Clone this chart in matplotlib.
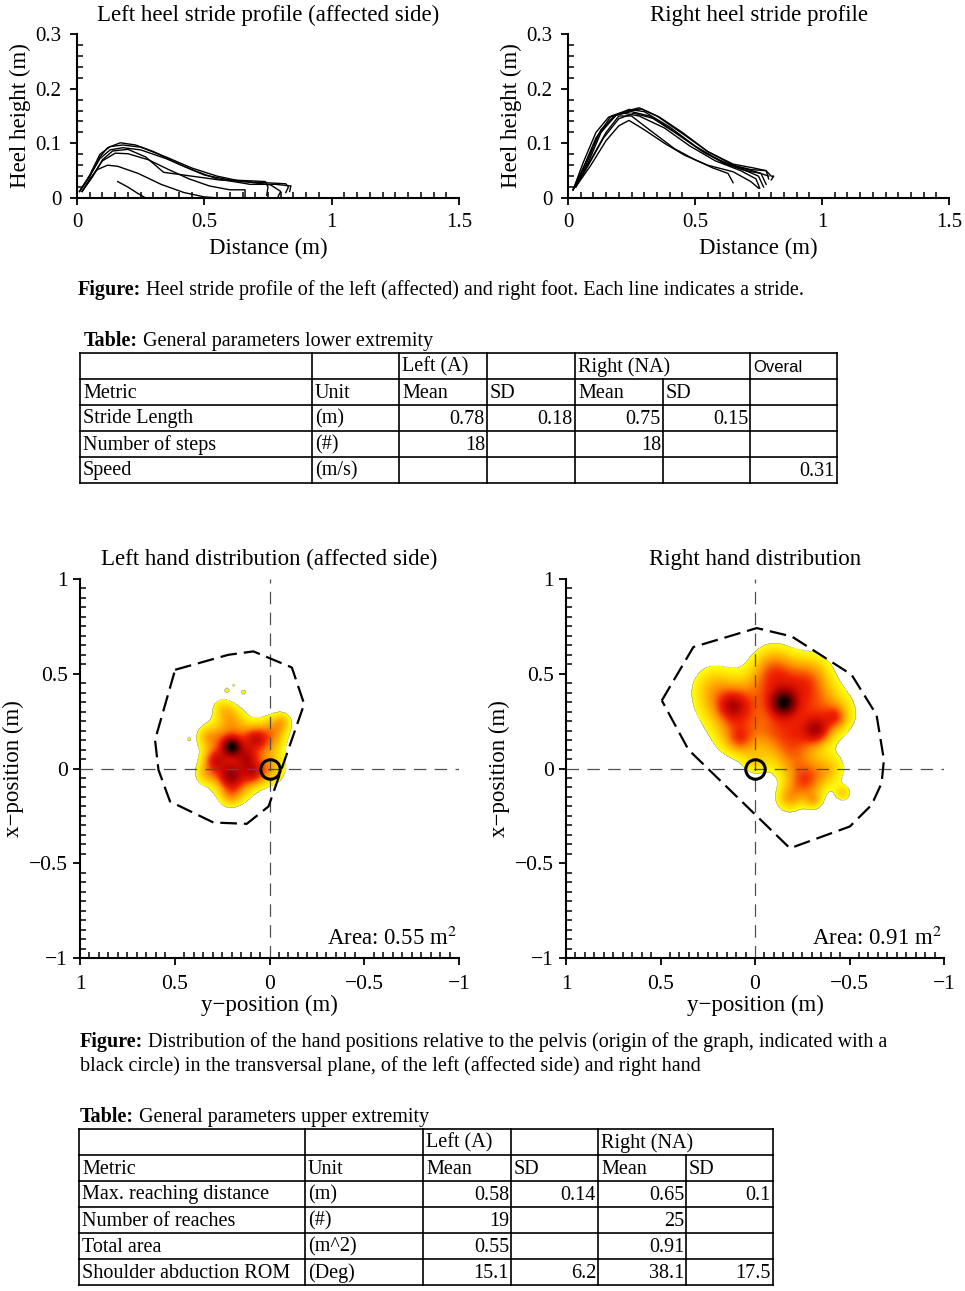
import numpy as np
import matplotlib
matplotlib.use("Agg")
from matplotlib import pyplot as plt
from matplotlib.ticker import MultipleLocator
from matplotlib.colors import LinearSegmentedColormap

plt.rcParams['font.family'] = ['Liberation Serif', 'DejaVu Serif']
plt.rcParams['mathtext.fontset'] = 'stix'
plt.rcParams['lines.scale_dashes'] = False

# ---- heel stride profiles (distance m, height m), one list per stride ----
left_x = [
    [0.01, 0.05, 0.09, 0.12, 0.17, 0.23, 0.30, 0.40, 0.50, 0.60, 0.70, 0.74, 0.75, 0.745],
    [0.01, 0.05, 0.09, 0.13, 0.18, 0.25, 0.35, 0.45, 0.55, 0.65, 0.78, 0.82, 0.83, 0.82],
    [0.01, 0.05, 0.09, 0.13, 0.18, 0.25, 0.35, 0.45, 0.55, 0.68, 0.78, 0.84, 0.835],
    [0.02, 0.06, 0.10, 0.15, 0.20, 0.28, 0.36, 0.44, 0.52, 0.60, 0.66, 0.66],
    [0.02, 0.05, 0.08, 0.12, 0.16, 0.24, 0.33, 0.42, 0.50, 0.56],
    [0.16, 0.20, 0.24, 0.27],
    [0.02, 0.06, 0.10, 0.14, 0.20, 0.27, 0.34, 0.45, 0.56, 0.66, 0.76, 0.80, 0.79],
]
left_y = [
    [0.012, 0.040, 0.075, 0.092, 0.101, 0.097, 0.085, 0.062, 0.042, 0.033, 0.031, 0.030, 0.020, 0.005],
    [0.012, 0.042, 0.080, 0.094, 0.097, 0.093, 0.075, 0.055, 0.040, 0.030, 0.027, 0.026, 0.020, 0.010],
    [0.012, 0.040, 0.072, 0.088, 0.092, 0.088, 0.072, 0.052, 0.035, 0.025, 0.025, 0.022, 0.012],
    [0.012, 0.040, 0.068, 0.082, 0.081, 0.070, 0.052, 0.035, 0.022, 0.015, 0.015, 0.001],
    [0.012, 0.035, 0.052, 0.060, 0.058, 0.045, 0.025, 0.010, 0.002, 0.0],
    [0.030, 0.020, 0.008, 0.0],
    [0.012, 0.038, 0.070, 0.086, 0.089, 0.075, 0.047, 0.040, 0.033, 0.030, 0.024, 0.012, 0.003],
]
right_x = [
    [0.02, 0.06, 0.11, 0.17, 0.22, 0.28, 0.36, 0.45, 0.55, 0.65, 0.72, 0.78, 0.80, 0.81, 0.80],
    [0.02, 0.07, 0.12, 0.18, 0.24, 0.30, 0.40, 0.50, 0.60, 0.70, 0.76, 0.78],
    [0.03, 0.08, 0.13, 0.19, 0.25, 0.32, 0.42, 0.52, 0.62, 0.70, 0.75, 0.77],
    [0.02, 0.06, 0.11, 0.16, 0.22, 0.28, 0.38, 0.48, 0.58, 0.68, 0.74, 0.755],
    [0.03, 0.08, 0.14, 0.20, 0.26, 0.34, 0.44, 0.54, 0.64, 0.74, 0.79],
    [0.03, 0.09, 0.15, 0.20, 0.25, 0.32, 0.42, 0.50, 0.57, 0.63, 0.65],
    [0.03, 0.09, 0.15, 0.20, 0.24, 0.30, 0.38, 0.46, 0.55, 0.65, 0.72, 0.75],
    [0.02, 0.08, 0.13, 0.19, 0.25, 0.29, 0.35, 0.45, 0.55, 0.65, 0.73, 0.78, 0.79],
]
right_y = [
    [0.015, 0.055, 0.110, 0.150, 0.158, 0.165, 0.148, 0.120, 0.085, 0.060, 0.052, 0.050, 0.040, 0.040, 0.033],
    [0.015, 0.060, 0.115, 0.150, 0.162, 0.158, 0.130, 0.095, 0.068, 0.050, 0.045, 0.025],
    [0.020, 0.065, 0.120, 0.152, 0.158, 0.150, 0.120, 0.088, 0.062, 0.050, 0.040, 0.020],
    [0.015, 0.065, 0.120, 0.148, 0.155, 0.150, 0.128, 0.095, 0.068, 0.050, 0.035, 0.018],
    [0.020, 0.060, 0.110, 0.145, 0.155, 0.145, 0.115, 0.082, 0.060, 0.048, 0.040],
    [0.020, 0.070, 0.120, 0.150, 0.150, 0.125, 0.090, 0.070, 0.055, 0.045, 0.028],
    [0.020, 0.060, 0.105, 0.132, 0.142, 0.125, 0.100, 0.078, 0.060, 0.048, 0.030, 0.018],
    [0.015, 0.075, 0.125, 0.152, 0.160, 0.163, 0.150, 0.118, 0.085, 0.062, 0.055, 0.050, 0.035],
]

# ---- hand distributions: hot spots (y-pos, x-pos, weight, spread) ----
left_hy = [0.25, 0.12, 0.00, 0.25, 0.12, 0.00, 0.18, 0.20, -0.03,
           0.33, 0.34, 0.21, 0.25, -0.07,
           0.20, 0.12, 0.07, 0.29, 0.21, 0.085,
           0.225, 0.19, 0.138, 0.425]
left_hx = [0.15, 0.15, 0.15, 0.00, 0.00, 0.00, -0.10, 0.27, 0.22,
           0.17, -0.03, -0.15, 0.32, 0.25,
           0.115, 0.06, 0.16, 0.045, -0.04, -0.025,
           0.415, 0.44, 0.405, 0.155]
left_hw = [0.30, 0.30, 0.25, 0.30, 0.30, 0.25, 0.25, 0.20, 0.18,
           0.15, 0.15, 0.15, 0.15, 0.15,
           0.60, 0.25, 0.25, 0.30, 0.30, 0.25,
           0.14, 0.13, 0.14, 0.13]
left_hs = [0.07, 0.07, 0.06, 0.07, 0.07, 0.06, 0.06, 0.05, 0.05,
           0.04, 0.04, 0.04, 0.04, 0.035,
           0.035, 0.04, 0.04, 0.04, 0.045, 0.04,
           0.012, 0.008, 0.012, 0.008]

right_hy = [0.20, 0.05, -0.10, -0.25, -0.40, -0.25, -0.10, 0.10, -0.20, -0.30, -0.10, -0.30, 0.22,
            -0.18, -0.31, -0.466, 0.00, -0.40, -0.25,
            -0.15, -0.33, 0.12, -0.43, 0.08]
right_hx = [0.35, 0.35, 0.45, 0.40, 0.30, 0.20, 0.20, 0.20, 0.05, -0.05, 0.55, 0.50, 0.45,
            -0.16, -0.17, -0.13, 0.03, 0.00, -0.08,
            0.345, 0.20, 0.33, 0.27, 0.15]
right_hw = [0.20, 0.28, 0.30, 0.30, 0.28, 0.30, 0.30, 0.26, 0.25, 0.22, 0.22, 0.22, 0.15,
            0.25, 0.20, 0.20, 0.15, 0.18, 0.22,
            0.60, 0.35, 0.25, 0.20, 0.20]
right_hs = [0.09, 0.09, 0.09, 0.09, 0.09, 0.09, 0.09, 0.09, 0.08, 0.07, 0.08, 0.08, 0.08,
            0.05, 0.035, 0.03, 0.05, 0.06, 0.06,
            0.05, 0.05, 0.05, 0.04, 0.05]

# convex hull of reach (y-pos, x-pos)
left_hull_y = [0.498, 0.217, 0.085, -0.118, -0.183, 0.005, 0.12, 0.296, 0.525, 0.586, 0.604, 0.498]
left_hull_x = [0.521, 0.600, 0.618, 0.533, 0.340, -0.200, -0.292, -0.285, -0.174, -0.007, 0.151, 0.521]
right_hull_y = [0.493, 0.326, -0.009, -0.194, -0.511, -0.643, -0.682, -0.670, -0.617, -0.502, -0.185, 0.352, 0.493]
right_hull_x = [0.359, 0.641, 0.741, 0.697, 0.495, 0.283, 0.046, -0.077, -0.192, -0.306, -0.421, 0.099, 0.359]

area_left = 0.55
area_right = 0.91

# ---- tables ----
cols1 = ["", "", "Left (A)", "", "Right (NA)", "", "Overal"]
sub1 = ["Metric", "Unit", "Mean", "SD", "Mean", "SD", ""]
metrics1 = ["Stride Length", "Number of steps", "Speed"]
units1 = ["(m)", "(#)", "(m/s)"]
left_mean1 = ["0.78", "18", ""]
left_sd1 = ["0.18", "", ""]
right_mean1 = ["0.75", "18", ""]
right_sd1 = ["0.15", "", ""]
overall1 = ["", "", "0.31"]

cols2 = ["", "", "Left (A)", "", "Right (NA)", ""]
sub2 = ["Metric", "Unit", "Mean", "SD", "Mean", "SD"]
metrics2 = ["Max. reaching distance", "Number of reaches", "Total area", "Shoulder abduction ROM"]
units2 = ["(m)", "(#)", "(m^2)", "(Deg)"]
left_mean2 = ["0.58", "19", "0.55", "15.1"]
left_sd2 = ["0.14", "", "", "6.2"]
right_mean2 = ["0.65", "25", "0.91", "38.1"]
right_sd2 = ["0.1", "", "", "17.5"]

W, H = 965, 1291
fig = plt.figure(figsize=(W / 100, H / 100), dpi=100)

def px_axes(l, t, r, b):
    return fig.add_axes([l / W, 1 - b / H, (r - l) / W, (b - t) / H])

def style_axes(ax, tick_size, pad):
    for s in ['top', 'right']:
        ax.spines[s].set_visible(False)
    for s in ['left', 'bottom']:
        ax.spines[s].set_linewidth(1.5)
    ax.tick_params(which='major', direction='out', length=5, width=1.3, labelsize=tick_size, pad=pad)
    ax.tick_params(which='minor', direction='in', length=4, width=1.1)

# heel profiles
for (l, r), xs, ys, title in [((77, 459), left_x, left_y, "Left heel stride profile (affected side)"),
                             ((568, 949), right_x, right_y, "Right heel stride profile")]:
    ax = px_axes(l, 34, r, 198)
    for x, y in zip(xs, ys):
        ax.plot(x, y, c='black', lw=1.0)
    ax.set_xlim(0, 1.5)
    ax.set_ylim(0, 0.3)
    ax.set_xticks([0, 0.5, 1, 1.5])
    ax.set_xticklabels(["0", "0.5", "1", "1.5"])
    ax.set_yticks([0, 0.1, 0.2, 0.3])
    ax.set_yticklabels(["0", "0.1", "0.2", "0.3"])
    ax.xaxis.set_minor_locator(MultipleLocator(0.05))
    ax.yaxis.set_minor_locator(MultipleLocator(0.02))
    style_axes(ax, 15, 6)
    ax.set_title(title, fontsize=16.5, pad=9)
    ax.set_xlabel("Distance (m)", fontsize=16.5, labelpad=4)
    ax.set_ylabel("Heel height (m)", fontsize=16.5, labelpad=3)

# hand distributions
cmap = LinearSegmentedColormap.from_list("heat", [
    (0.0, "#ffff10"), (0.12, "#ffd400"), (0.28, "#ff8c00"),
    (0.45, "#f02000"), (0.66, "#b00000"), (0.86, "#500000"), (1.0, "#0a0000")])
g = np.linspace(-1, 1, 401)
GY, GX = np.meshgrid(g, g)
thr = 0.1

for (l, r), hy, hx, hw, hs, huy, hux, area, title in [
        ((80, 459), left_hy, left_hx, left_hw, left_hs, left_hull_y, left_hull_x, area_left,
         "Left hand distribution (affected side)"),
        ((566, 944), right_hy, right_hx, right_hw, right_hs, right_hull_y, right_hull_x, area_right,
         "Right hand distribution")]:
    ax = px_axes(l, 579, r, 958)
    Z = np.zeros_like(GX)
    for y0, x0, w0, s0 in zip(hy, hx, hw, hs):
        Z += w0 * np.exp(-((GY - y0) ** 2 + (GX - x0) ** 2) / (2 * s0 ** 2))
    Zm = np.ma.masked_less(Z, thr)
    ax.imshow(Zm, origin='lower', extent=(-1, 1, -1, 1), cmap=cmap, vmin=thr, vmax=Z.max(),
              interpolation='bilinear', aspect='auto', zorder=1)
    ax.axhline(0, color='#505050', lw=0.9, dashes=(9, 6), zorder=2)
    ax.axvline(0, color='#505050', lw=0.9, dashes=(9, 6), zorder=2)
    ax.plot(huy, hux, color='black', lw=1.6, dashes=(12, 5), zorder=3)
    ax.plot([0], [0], 'o', ms=14, mfc='none', mec='black', mew=2.2, zorder=4)
    ax.set_xlim(1, -1)
    ax.set_ylim(-1, 1)
    ax.set_xticks([1, 0.5, 0, -0.5, -1])
    ax.set_xticklabels(["1", "0.5", "0", "\u22120.5", "\u22121"])
    ax.set_yticks([-1, -0.5, 0, 0.5, 1])
    ax.set_yticklabels(["\u22121", "\u22120.5", "0", "0.5", "1"])
    ax.xaxis.set_minor_locator(MultipleLocator(0.05))
    ax.yaxis.set_minor_locator(MultipleLocator(0.05))
    style_axes(ax, 15.5, 4)
    ax.tick_params(axis='x', pad=7)
    ax.set_title(title, fontsize=16.5, pad=10)
    ax.set_xlabel("y\u2212position (m)", fontsize=16.5, labelpad=1)
    ax.set_ylabel("x\u2212position (m)", fontsize=16.5, labelpad=3)
    ax.text(0.995, 0.022, "Area: %.2f m$^2$" % area, transform=ax.transAxes,
            ha='right', va='bottom', fontsize=16.5)

# overlay for captions and tables, in pixel units
ov = fig.add_axes([0, 0, 1, 1], zorder=-1)
ov.set_xlim(0, W)
ov.set_ylim(H, 0)
ov.axis('off')

def rich(x, y, bold, rest, size):
    t = ov.text(x, y, bold, fontsize=size, fontweight='bold', ha='left', va='baseline')
    ov.annotate(rest, xy=(1, 0), xycoords=t, ha='left', va='bottom', fontsize=size)

cap = 14.5
rich(78, 295, "Figure:", " Heel stride profile of the left (affected) and right foot. Each line indicates a stride.", cap)
rich(80, 1047, "Figure:", " Distribution of the hand positions relative to the pelvis (origin of the graph, indicated with a", cap)
ov.text(80, 1071, "black circle) in the transversal plane, of the left (affected side) and right hand",
        fontsize=cap, ha='left', va='baseline')
rich(84, 346, "Table:", " General parameters lower extremity", cap)
rich(80, 1122, "Table:", " General parameters upper extremity", cap)

def draw_table(xs, y0, rows, merged_gap):
    rh = 26
    n = len(rows)
    for i in range(n + 1):
        ov.plot([xs[0], xs[-1]], [y0 + i * rh] * 2, color='black', lw=1.2)
    for j, xv in enumerate(xs):
        for i in range(n):
            if i == 0 and j == merged_gap:
                continue
            ov.plot([xv, xv], [y0 + i * rh, y0 + (i + 1) * rh], color='black', lw=1.2)
    for i, row in enumerate(rows):
        yc = y0 + i * rh + rh / 2 + 1
        for j, cell in enumerate(row):
            if cell == "":
                continue
            numeric = i >= 2 and j >= 2
            if cell == "Overal":
                ov.text(xs[j] + 3, yc, cell, fontsize=12, family=['Liberation Sans', 'DejaVu Sans'],
                        ha='left', va='center')
            elif numeric:
                ov.text(xs[j + 1] - 2, yc, cell, fontsize=14.5, ha='right', va='center')
            else:
                ov.text(xs[j] + 3, yc, cell, fontsize=14.5, ha='left', va='center')

rows1 = [cols1, sub1] + [list(r) for r in zip(metrics1, units1, left_mean1, left_sd1,
                                              right_mean1, right_sd1, overall1)]
draw_table([80, 312, 399, 487, 575, 663, 750, 837], 353, rows1, 5)

rows2 = [cols2, sub2] + [list(r) for r in zip(metrics2, units2, left_mean2, left_sd2,
                                              right_mean2, right_sd2)]
draw_table([79, 305, 423, 511, 598, 686, 773], 1129, rows2, 5)

fig.savefig("out.png", dpi=100)
